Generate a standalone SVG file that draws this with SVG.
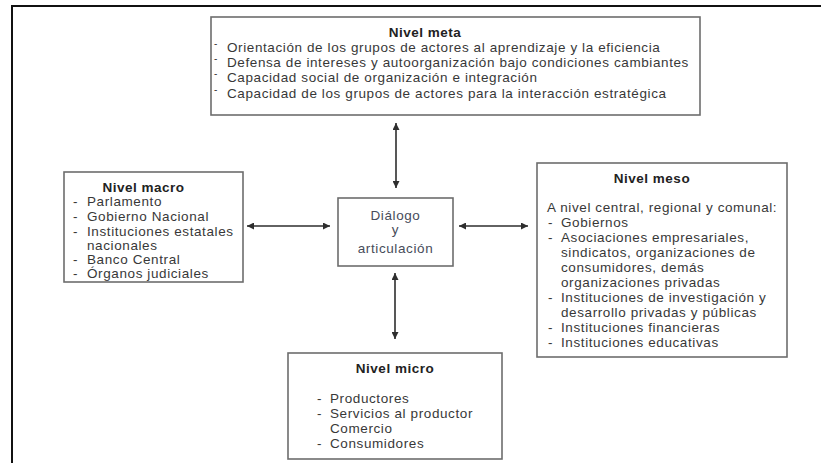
<svg xmlns="http://www.w3.org/2000/svg" width="821" height="463" viewBox="0 0 821 463">
<defs>
<marker id="ah" viewBox="0 0 10 10" refX="10" refY="5" markerWidth="9" markerHeight="7" markerUnits="userSpaceOnUse" orient="auto-start-reverse">
<path d="M0,0 L10,5 L0,10 z" fill="#2e2e2e"/>
</marker>
</defs>
<style>
.box{fill:#fff;stroke:#6d6d6d;stroke-width:1.6}
.t{font-family:"Liberation Sans",Arial,sans-serif;font-size:13.5px;letter-spacing:0.6px;fill:#383838}
.b{font-weight:bold;fill:#222;letter-spacing:0.5px}
.c{text-anchor:middle}
.cn{fill:#474c5a}
.sd{font-size:10px}
.ar{stroke:#2e2e2e;stroke-width:1.6;fill:none;marker-start:url(#ah);marker-end:url(#ah)}
.frame{stroke:#111;stroke-width:2;fill:none}
</style>
<rect width="821" height="463" fill="#fff"/>
<path class="frame" d="M12,463 V6 H821"/>

<g id="meta">
<rect class="box" x="211" y="17" width="489" height="98"/>
<text class="t b c" x="425" y="37">Nivel meta</text>
<text class="t sd" x="214" y="47">-</text>
<text class="t" x="227" y="52">Orientación de los grupos de actores al aprendizaje y la eficiencia</text>
<text class="t sd" x="214" y="62">-</text>
<text class="t" x="227" y="67">Defensa de intereses y autoorganización bajo condiciones cambiantes</text>
<text class="t sd" x="214" y="77">-</text>
<text class="t" x="227" y="82">Capacidad social de organización e integración</text>
<text class="t sd" x="214" y="93">-</text>
<text class="t" x="227" y="98">Capacidad de los grupos de actores para la interacción estratégica</text>
</g>

<g id="macro">
<rect class="box" x="64" y="172" width="179" height="110"/>
<text class="t b c" x="143.5" y="192">Nivel macro</text>
<text class="t" x="73" y="206">-</text><text class="t" x="87" y="206">Parlamento</text>
<text class="t" x="73" y="221">-</text><text class="t" x="87" y="221">Gobierno Nacional</text>
<text class="t" x="73" y="236">-</text><text class="t" x="87" y="236">Instituciones estatales</text>
<text class="t" x="87" y="250">nacionales</text>
<text class="t" x="73" y="264">-</text><text class="t" x="87" y="264">Banco Central</text>
<text class="t" x="73" y="278">-</text><text class="t" x="87" y="278">Órganos judiciales</text>
</g>

<g id="dialogo">
<rect class="box" x="338" y="198" width="115" height="68"/>
<text class="t c cn" x="395.5" y="220">Diálogo</text>
<text class="t c cn" x="395.5" y="234">y</text>
<text class="t c cn" x="395.5" y="253">articulación</text>
</g>

<g id="meso">
<rect class="box" x="537" y="163" width="250" height="194"/>
<text class="t b c" x="652" y="183">Nivel meso</text>
<text class="t" x="547" y="212">A nivel central, regional y comunal:</text>
<text class="t" x="548" y="227">-</text><text class="t" x="561" y="227">Gobiernos</text>
<text class="t" x="548" y="242">-</text><text class="t" x="561" y="242">Asociaciones empresariales,</text>
<text class="t" x="561" y="257">sindicatos, organizaciones de</text>
<text class="t" x="561" y="272">consumidores, demás</text>
<text class="t" x="561" y="287">organizaciones privadas</text>
<text class="t" x="548" y="302">-</text><text class="t" x="561" y="302">Instituciones de investigación y</text>
<text class="t" x="561" y="317">desarrollo privadas y públicas</text>
<text class="t" x="548" y="332">-</text><text class="t" x="561" y="332">Instituciones financieras</text>
<text class="t" x="548" y="347">-</text><text class="t" x="561" y="347">Instituciones educativas</text>
</g>

<g id="micro">
<rect class="box" x="288" y="353" width="214" height="106"/>
<text class="t b c" x="395" y="373">Nivel micro</text>
<text class="t" x="317" y="403">-</text><text class="t" x="330" y="403">Productores</text>
<text class="t" x="317" y="418">-</text><text class="t" x="330" y="418">Servicios al productor</text>
<text class="t" x="330" y="433">Comercio</text>
<text class="t" x="317" y="448">-</text><text class="t" x="330" y="448">Consumidores</text>
</g>

<g id="connectors">
<line class="ar" x1="396" y1="123" x2="396" y2="188"/>
<line class="ar" x1="247" y1="226" x2="330" y2="226"/>
<line class="ar" x1="459" y1="226" x2="528" y2="226"/>
<line class="ar" x1="395" y1="273" x2="395" y2="339"/>
</g>
</svg>
